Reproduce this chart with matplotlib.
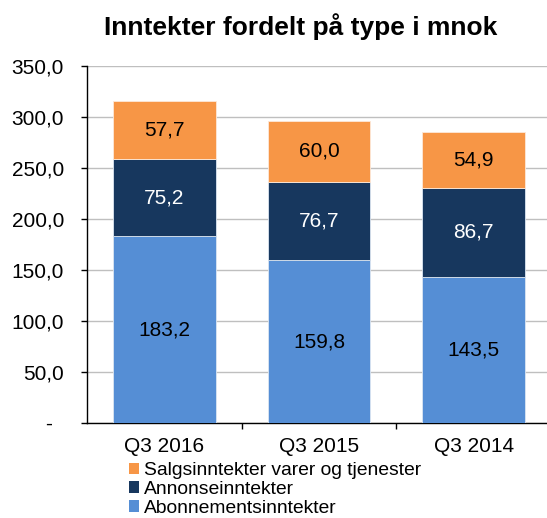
import matplotlib
matplotlib.use("Agg")
import matplotlib.pyplot as plt
import numpy as np
from matplotlib.patches import Patch

plt.rcParams['font.family'] = ['Liberation Sans', 'DejaVu Sans']

categories = ["Q3 2016", "Q3 2015", "Q3 2014"]
abonnement = [183.2, 159.8, 143.5]
annonse = [75.2, 76.7, 86.7]
salg = [57.7, 60.0, 54.9]
yticks = [0, 50, 100, 150, 200, 250, 300, 350]
series_names = ["Salgsinntekter varer og tjenester", "Annonseinntekter", "Abonnementsinntekter"]

c_blue = "#558ED5"
c_navy = "#17375E"
c_orange = "#F79646"

fig = plt.figure(figsize=(5.47, 5.18), dpi=100)
W, H = 547, 518
ax = fig.add_axes([87 / W, 1 - 423 / H, (551 - 87) / W, (423 - 66) / H])

FS = 15

x = np.arange(len(categories))
w = 0.665
ax.bar(x, abonnement, w, color=c_blue, edgecolor="#dce6f2", linewidth=0.6, zorder=3)
bottom2 = np.array(abonnement)
ax.bar(x, annonse, w, bottom=bottom2, color=c_navy, edgecolor="#dce6f2", linewidth=0.6, zorder=3)
bottom3 = bottom2 + np.array(annonse)
ax.bar(x, salg, w, bottom=bottom3, color=c_orange, edgecolor="#fde9d9", linewidth=0.6, zorder=3)

def fmt(v):
    return f"{v:.1f}".replace(".", ",")

for i in range(len(categories)):
    ax.text(x[i], abonnement[i] / 2, fmt(abonnement[i]), ha="center", va="center", fontsize=FS, color="black", zorder=4)
    ax.text(x[i], bottom2[i] + annonse[i] / 2, fmt(annonse[i]), ha="center", va="center", fontsize=FS, color="white", zorder=4)
    ax.text(x[i], bottom3[i] + salg[i] / 2, fmt(salg[i]), ha="center", va="center", fontsize=FS, color="black", zorder=4)

ax.set_ylim(0, 350)
ax.set_xlim(-0.5, 2.5)
ax.set_yticks(yticks)
ax.set_yticklabels(["-  " if t == 0 else fmt(t) for t in yticks], fontsize=FS)
ax.yaxis.grid(True, color="#BFBFBF", linewidth=1.0, zorder=0)
ax.set_axisbelow(True)

ax.set_xticks(x)
ax.set_xticklabels(categories, fontsize=FS)
ax.tick_params(axis="x", length=0, pad=10)
ax.set_xticks([0.5, 1.5], minor=True)
ax.tick_params(axis="x", which="minor", length=4, width=1, direction="out")
ax.tick_params(axis="y", length=4.5, width=1, direction="out", pad=12)

for s in ["top", "right"]:
    ax.spines[s].set_visible(False)
ax.spines["left"].set_linewidth(1)
ax.spines["bottom"].set_linewidth(1)

fig.text((103 + 498) / 2 / W, 1 - 27 / H, "Inntekter fordelt på type i mnok", ha="center", va="center",
         fontsize=19, fontweight="bold")

handles = [Patch(facecolor=c_orange), Patch(facecolor=c_navy), Patch(facecolor=c_blue)]
fig.legend(handles, series_names, loc="upper left", bbox_to_anchor=(129 / W, 1 - 462 / H),
           frameon=False, fontsize=13.9, handlelength=0.52, handleheight=0.52, handletextpad=0.28,
           labelspacing=0.1, borderaxespad=0, borderpad=0)

fig.savefig("out.png", dpi=100)
